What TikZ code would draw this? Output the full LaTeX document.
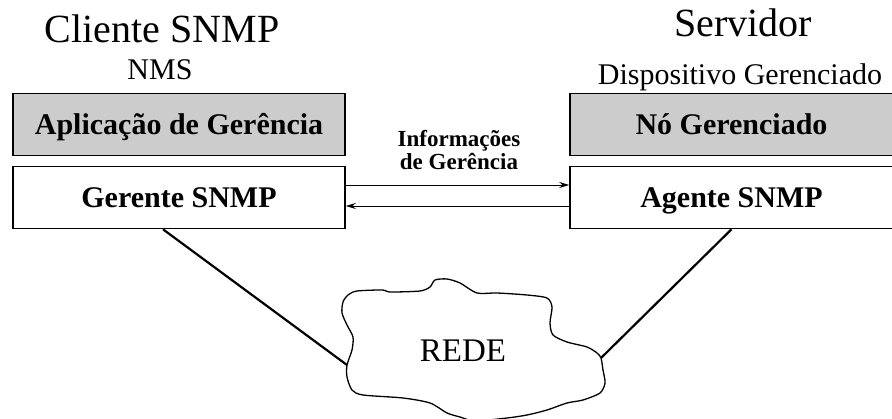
\documentclass[tikz,border=0pt]{standalone}
\usepackage{fontspec}
\setmainfont{Liberation Serif}
\usetikzlibrary{arrows.meta,calc}

\begin{document}
\begin{tikzpicture}[x=1pt,y=-1pt,>=Stealth,
  ttl/.style={font=\fontsize{40}{44}\selectfont,anchor=base,inner sep=0pt},
  sub/.style={font=\fontsize{30}{34}\selectfont,anchor=base,inner sep=0pt},
  box/.style={draw,line width=1.6pt,minimum height=62pt,inner sep=0pt,
    text height=20pt,text depth=0pt,font=\bfseries\fontsize{30}{34}\selectfont},
  grbox/.style={box,fill=black!20},
  msg/.style={->,line width=0.9pt,>={Stealth[length=10pt,width=6pt]}},
  ln/.style={line width=2.2pt},
  lb/.style={font=\bfseries\fontsize{23}{23}\selectfont,align=center,anchor=base,inner sep=0pt}]
\useasboundingbox (0,0) rectangle (892,419);

% client side
\node[ttl] (cli) at (162,43) {Cliente SNMP};
\node[sub] (nms) at (160,80) {NMS};
\node[grbox,minimum width=332pt] (app) at (179,124.5) {Aplicação de Gerência};
\node[box,minimum width=332pt] (ger) at (179,197.5) {Gerente SNMP};

% server side
\node[ttl] (srv) at (743,37) {Servidor};
\node[sub] (disp) at (740,85) {Dispositivo Gerenciado};
\node[grbox,minimum width=323pt] (no) at (731.5,124.5) {Nó Gerenciado};
\node[box,minimum width=323pt] (ag) at (731.5,197.5) {Agente SNMP};

\node[lb] (info) at (459,170) {Informações\\de Gerência};
\draw[msg] ([yshift=12.5pt]ger.east) -- ([yshift=12.5pt]ag.west);
\draw[msg] ([yshift=-8.5pt]ag.west) -- ([yshift=-8.5pt]ger.east);

% network cloud
\draw[line width=1.3pt,fill=white] plot[smooth cycle,tension=0.45] coordinates {
  (343,302) (348,295) (357,291) (383,290) (390,292) (420,291) (430,287)
  (435,280) (447,279) (460,283) (477,293) (497,293) (527,295) (547,298)
  (552,307) (550,323) (553,335) (567,342) (587,347) (597,353) (601,358)
  (603,370) (605,383) (600,393) (583,400) (567,403) (547,410) (527,415)
  (507,418) (475,421) (460,417) (447,413) (430,403) (403,398) (363,395)
  (352,390) (347,377) (347,365) (352,350) (353,337) (347,325) (342,313)};
\node[font=\fontsize{33}{36}\selectfont,anchor=base,inner sep=0pt] (rede) at (463,362) {REDE};
\coordinate (rede-w) at (347,365);
\coordinate (rede-e) at (601,358);

\draw[ln] ($(ger.south west)!0.452!(ger.south east)$) -- (rede-w);
\draw[ln] (ag.south) -- (rede-e);
\end{tikzpicture}
\end{document}
